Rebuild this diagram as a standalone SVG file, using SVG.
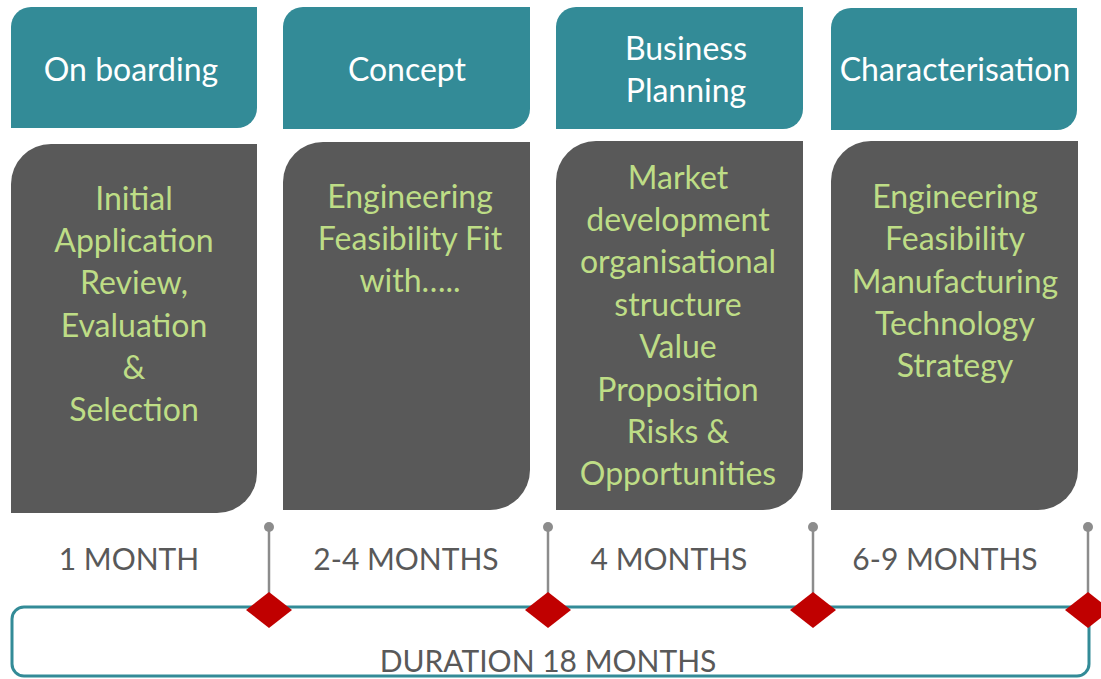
<svg xmlns="http://www.w3.org/2000/svg" width="1101" height="679" viewBox="0 0 1101 679">
<style>
.hdr{fill:#338b97}
.body{fill:#595959}
.t{font-family:Lato,"Liberation Sans",sans-serif;font-size:32px;text-anchor:middle}
.d{font-size:30px}
.ht{fill:#ffffff}
.bt{fill:#bedd86}
.dt{fill:#595959}
.stem{stroke:#8c8c8c;stroke-width:2.5}
.dot{fill:#8c8c8c}
.dia{fill:#c00000}
</style>
<rect width="1101" height="679" fill="#ffffff"/>
<g id="timeline">
<rect x="12" y="607" width="1077" height="69" rx="12" ry="12" fill="none" stroke="#338b97" stroke-width="3"/>
<text class="t d dt" x="548" y="672">DURATION 18 MONTHS</text>
</g>
<g id="col1">
<path class="hdr" d="M31,7 H257 V108 A20,20 0 0 1 237,128 H11 V27 A20,20 0 0 1 31,7 Z"/>
<text class="t ht" x="131" y="81">On boarding</text>
<path class="body" d="M51,144 H257 V473 A40,40 0 0 1 217,513 H11 V184 A40,40 0 0 1 51,144 Z"/>
<text class="t bt" x="134" y="210">Initial</text>
<text class="t bt" x="134" y="252">Application</text>
<text class="t bt" x="134" y="294">Review,</text>
<text class="t bt" x="134" y="337">Evaluation</text>
<text class="t bt" x="134" y="379">&amp;</text>
<text class="t bt" x="134" y="421">Selection</text>
<text class="t d dt" x="129" y="570">1 MONTH</text>
</g>
<g id="col2">
<path class="hdr" d="M303,7 H530 V109 A20,20 0 0 1 510,129 H283 V27 A20,20 0 0 1 303,7 Z"/>
<text class="t ht" x="407" y="81">Concept</text>
<path class="body" d="M323,142 H530 V470 A40,40 0 0 1 490,510 H283 V182 A40,40 0 0 1 323,142 Z"/>
<text class="t bt" x="410" y="208">Engineering</text>
<text class="t bt" x="410" y="250">Feasibility Fit</text>
<text class="t bt" x="410" y="292">with…..</text>
<text class="t d dt" x="406" y="570">2-4 MONTHS</text>
</g>
<g id="col3">
<path class="hdr" d="M576,7 H803 V109 A20,20 0 0 1 783,129 H556 V27 A20,20 0 0 1 576,7 Z"/>
<text class="t ht" x="686" y="60">Business</text>
<text class="t ht" x="686" y="102">Planning</text>
<path class="body" d="M596,141 H803 V470 A40,40 0 0 1 763,510 H556 V181 A40,40 0 0 1 596,141 Z"/>
<text class="t bt" x="678" y="189">Market</text>
<text class="t bt" x="678" y="231">development</text>
<text class="t bt" x="678" y="273">organisational</text>
<text class="t bt" x="678" y="316">structure</text>
<text class="t bt" x="678" y="358">Value</text>
<text class="t bt" x="678" y="401">Proposition</text>
<text class="t bt" x="678" y="443">Risks &amp;</text>
<text class="t bt" x="678" y="485">Opportunities</text>
<text class="t d dt" x="669" y="570">4 MONTHS</text>
</g>
<g id="col4">
<path class="hdr" d="M851,8 H1077 V110 A20,20 0 0 1 1057,130 H831 V28 A20,20 0 0 1 851,8 Z"/>
<text class="t ht" x="955" y="81">Characterisation</text>
<path class="body" d="M871,141 H1078 V470 A40,40 0 0 1 1038,510 H831 V181 A40,40 0 0 1 871,141 Z"/>
<text class="t bt" x="955" y="208">Engineering</text>
<text class="t bt" x="955" y="250">Feasibility</text>
<text class="t bt" x="955" y="293">Manufacturing</text>
<text class="t bt" x="955" y="335">Technology</text>
<text class="t bt" x="955" y="377">Strategy</text>
<text class="t d dt" x="945" y="570">6-9 MONTHS</text>
</g>
<g id="connectors">
<line class="stem" x1="269" y1="527" x2="269" y2="600"/>
<circle class="dot" cx="269" cy="527" r="5"/>
<polygon class="dia" points="269,592 292,610 269,628 246,610"/>
<line class="stem" x1="548" y1="527" x2="548" y2="600"/>
<circle class="dot" cx="548" cy="527" r="5"/>
<polygon class="dia" points="548,592 571,610 548,628 525,610"/>
<line class="stem" x1="813" y1="527" x2="813" y2="600"/>
<circle class="dot" cx="813" cy="527" r="5"/>
<polygon class="dia" points="813,592 836,610 813,628 790,610"/>
<line class="stem" x1="1088" y1="527" x2="1088" y2="600"/>
<circle class="dot" cx="1088" cy="527" r="5"/>
<polygon class="dia" points="1088,592 1111,610 1088,628 1065,610"/>
</g>
</svg>
